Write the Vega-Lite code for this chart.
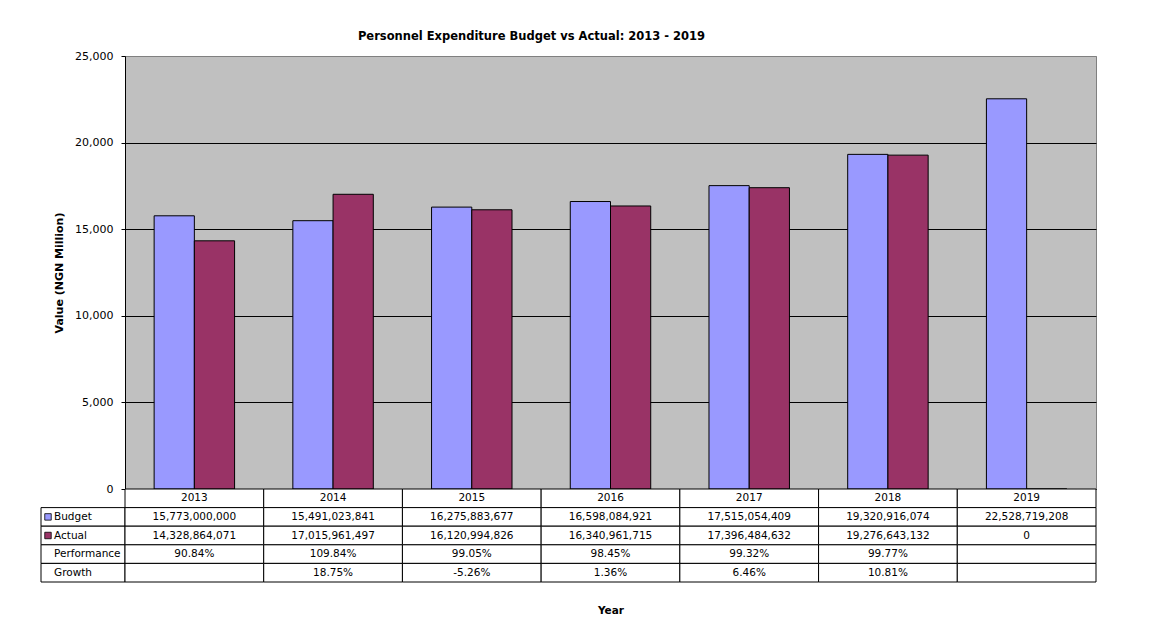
{
  "$schema": "https://vega.github.io/schema/vega-lite/v6.json",
  "padding": {"left": 40, "top": 31, "right": 5, "bottom": 5},
  "background": "white",
  "title": {
    "text": "Personnel Expenditure Budget vs Actual: 2013 - 2019",
    "font": "DejaVu Sans",
    "fontSize": 11.5,
    "fontWeight": "bold",
    "color": "black",
    "anchor": "middle",
    "dx": -37,
    "offset": 7
  },
  "columns": 2,
  "spacing": 0,
  "bounds": "flush",
  "align": "each",
  "resolve": {"scale": {"x": "independent", "y": "independent", "color": "independent"}},
  "config": {
    "font": "DejaVu Sans",
    "view": {"stroke": null}
  },
  "datasets": {
    "bars": [
      {"year": "2013", "series": "Budget", "value": 15773.00},
      {"year": "2013", "series": "Actual", "value": 14328.86},
      {"year": "2014", "series": "Budget", "value": 15491.02},
      {"year": "2014", "series": "Actual", "value": 17015.96},
      {"year": "2015", "series": "Budget", "value": 16275.88},
      {"year": "2015", "series": "Actual", "value": 16120.99},
      {"year": "2016", "series": "Budget", "value": 16598.08},
      {"year": "2016", "series": "Actual", "value": 16340.96},
      {"year": "2017", "series": "Budget", "value": 17515.05},
      {"year": "2017", "series": "Actual", "value": 17396.48},
      {"year": "2018", "series": "Budget", "value": 19320.92},
      {"year": "2018", "series": "Actual", "value": 19276.64},
      {"year": "2019", "series": "Budget", "value": 22528.72},
      {"year": "2019", "series": "Actual", "value": 0}
    ],
    "table": [
      {"year": "2013", "row": "Year", "label": "2013"},
      {"year": "2014", "row": "Year", "label": "2014"},
      {"year": "2015", "row": "Year", "label": "2015"},
      {"year": "2016", "row": "Year", "label": "2016"},
      {"year": "2017", "row": "Year", "label": "2017"},
      {"year": "2018", "row": "Year", "label": "2018"},
      {"year": "2019", "row": "Year", "label": "2019"},
      {"year": "2013", "row": "Budget", "label": "15,773,000,000"},
      {"year": "2014", "row": "Budget", "label": "15,491,023,841"},
      {"year": "2015", "row": "Budget", "label": "16,275,883,677"},
      {"year": "2016", "row": "Budget", "label": "16,598,084,921"},
      {"year": "2017", "row": "Budget", "label": "17,515,054,409"},
      {"year": "2018", "row": "Budget", "label": "19,320,916,074"},
      {"year": "2019", "row": "Budget", "label": "22,528,719,208"},
      {"year": "2013", "row": "Actual", "label": "14,328,864,071"},
      {"year": "2014", "row": "Actual", "label": "17,015,961,497"},
      {"year": "2015", "row": "Actual", "label": "16,120,994,826"},
      {"year": "2016", "row": "Actual", "label": "16,340,961,715"},
      {"year": "2017", "row": "Actual", "label": "17,396,484,632"},
      {"year": "2018", "row": "Actual", "label": "19,276,643,132"},
      {"year": "2019", "row": "Actual", "label": "0"},
      {"year": "2013", "row": "Performance", "label": "90.84%"},
      {"year": "2014", "row": "Performance", "label": "109.84%"},
      {"year": "2015", "row": "Performance", "label": "99.05%"},
      {"year": "2016", "row": "Performance", "label": "98.45%"},
      {"year": "2017", "row": "Performance", "label": "99.32%"},
      {"year": "2018", "row": "Performance", "label": "99.77%"},
      {"year": "2019", "row": "Performance", "label": ""},
      {"year": "2013", "row": "Growth", "label": ""},
      {"year": "2014", "row": "Growth", "label": "18.75%"},
      {"year": "2015", "row": "Growth", "label": "-5.26%"},
      {"year": "2016", "row": "Growth", "label": "1.36%"},
      {"year": "2017", "row": "Growth", "label": "6.46%"},
      {"year": "2018", "row": "Growth", "label": "10.81%"},
      {"year": "2019", "row": "Growth", "label": ""}
    ],
    "rows": [
      {"row": "Budget"},
      {"row": "Actual"},
      {"row": "Performance"},
      {"row": "Growth"}
    ]
  },
  "concat": [
    {
      "width": 84,
      "height": 433,
      "data": {"values": []},
      "mark": "rect"
    },
    {
      "width": 971,
      "height": 433,
      "data": {"name": "bars"},
      "view": {"fill": "#C0C0C0", "stroke": "#808080"},
      "mark": {"type": "bar", "stroke": "black", "strokeWidth": 1},
      "encoding": {
        "x": {
          "field": "year",
          "type": "nominal",
          "scale": {"paddingInner": 0.42, "paddingOuter": 0.21},
          "axis": null
        },
        "xOffset": {
          "field": "series",
          "type": "nominal",
          "scale": {"domain": ["Budget", "Actual"]}
        },
        "y": {
          "field": "value",
          "type": "quantitative",
          "scale": {"domain": [0, 25000], "nice": false},
          "axis": {
            "title": "Value (NGN Million)",
            "values": [0, 5000, 10000, 15000, 20000, 25000],
            "format": ",.0f",
            "domainColor": "black",
            "tickColor": "black",
            "tickSize": 4,
            "labelPadding": 8,
            "labelFontSize": 11,
            "labelColor": "black",
            "labelFlush": false,
            "gridColor": {"condition": {"test": "datum.value === 25000", "value": "#808080"}, "value": "black"},
            "gridOpacity": 1,
            "titleFontSize": 11,
            "titleFontWeight": "bold",
            "titleColor": "black",
            "titlePadding": 10
          }
        },
        "color": {
          "field": "series",
          "type": "nominal",
          "scale": {"domain": ["Budget", "Actual"], "range": ["#9999FF", "#993366"]},
          "legend": null
        }
      }
    },
    {
      "width": 84,
      "height": 93,
      "data": {"name": "rows"},
      "encoding": {
        "y": {
          "field": "row",
          "type": "nominal",
          "scale": {"domain": ["Year", "Budget", "Actual", "Performance", "Growth"], "paddingInner": 0, "paddingOuter": 0},
          "axis": null
        }
      },
      "layer": [
        {"mark": {"type": "rect", "fill": "white", "stroke": "black", "strokeWidth": 1}},
        {
          "mark": {"type": "text", "align": "left", "dx": -29, "fontSize": 10.5, "color": "black"},
          "encoding": {"text": {"field": "row"}}
        },
        {
          "transform": [{"filter": "datum.row === 'Budget' || datum.row === 'Actual'"}],
          "mark": {"type": "point", "shape": "square", "filled": true, "size": 42, "xOffset": -35, "stroke": "black", "strokeWidth": 0.8, "opacity": 1},
          "encoding": {
            "fill": {
              "field": "row",
              "type": "nominal",
              "scale": {"domain": ["Budget", "Actual"], "range": ["#9999FF", "#993366"]},
              "legend": null
            }
          }
        }
      ]
    },
    {
      "width": 971,
      "height": 93,
      "data": {"name": "table"},
      "encoding": {
        "x": {
          "field": "year",
          "type": "nominal",
          "scale": {"paddingInner": 0, "paddingOuter": 0},
          "axis": {
            "orient": "bottom",
            "labels": false,
            "ticks": false,
            "domain": false,
            "title": "Year",
            "titlePadding": 23,
            "titleFontWeight": "bold",
            "titleFontSize": 10.5,
            "titleColor": "black"
          }
        },
        "y": {
          "field": "row",
          "type": "nominal",
          "scale": {"domain": ["Year", "Budget", "Actual", "Performance", "Growth"], "paddingInner": 0, "paddingOuter": 0},
          "axis": null
        }
      },
      "layer": [
        {"mark": {"type": "rect", "fill": "white", "stroke": "black", "strokeWidth": 1}},
        {
          "mark": {"type": "text", "fontSize": 10.5, "color": "black"},
          "encoding": {"text": {"field": "label"}}
        }
      ]
    }
  ]
}
